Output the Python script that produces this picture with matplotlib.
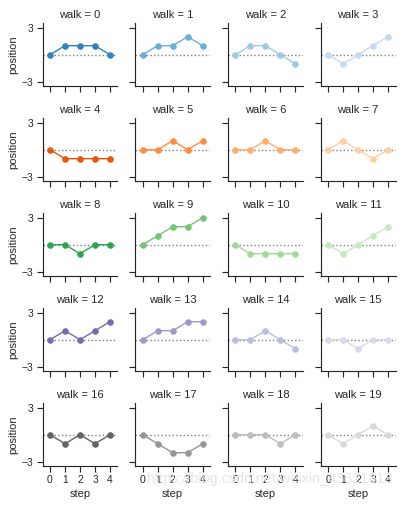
import numpy as np
import pandas as pd
import matplotlib
matplotlib.use("Agg")
import matplotlib.pyplot as plt
import seaborn as sns

# positions (5 steps each)
steps = [0, 1, 2, 3, 4]
walks = list(range(20))
positions = [
    [0, 1, 1, 1, 0],
    [0, 1, 1, 2, 1],
    [0, 1, 1, 0, -1],
    [0, -1, 0, 1, 2],
    [0, -1, -1, -1, -1],
    [0, 0, 1, 0, 1],
    [0, 0, 1, 0, 0],
    [0, 1, 0, -1, 0],
    [0, 0, -1, 0, 0],
    [0, 1, 2, 2, 3],
    [0, -1, -1, -1, -1],
    [0, -1, 0, 1, 2],
    [0, 1, 0, 1, 2],
    [0, 1, 1, 2, 2],
    [0, 0, 1, 0, -1],
    [0, 0, -1, 0, 0],
    [0, -1, 0, -1, 0],
    [0, -1, -2, -2, -1],
    [0, 0, 0, -1, 0],
    [0, -1, 0, 1, 0],
]

df = pd.DataFrame({
    "position": np.ravel(positions),
    "step": np.tile(steps, len(walks)),
    "walk": np.repeat(walks, len(steps)),
})

sns.set_theme(style="ticks")
plt.rcParams["font.family"] = ["Liberation Sans", "DejaVu Sans"]

grid = sns.FacetGrid(df, col="walk", hue="walk", palette="tab20c",
                     col_wrap=4, height=1.5)
grid.refline(y=0, linestyle=":")
grid.map(plt.plot, "step", "position", marker="o")
grid.set(xticks=np.arange(5), yticks=[-3, 3],
         xlim=(-.5, 4.5), ylim=(-3.5, 3.5))

# only the bottom row keeps its x tick labels
for i, ax in enumerate(grid.axes.flat):
    if i < 16:
        ax.tick_params(labelbottom=False)
    if i % 4 != 0:
        ax.tick_params(labelleft=False)

fig = grid.fig
fig.set_size_inches(402 / 67, 506 / 67)
fig.subplots_adjust(left=42.5 / 402, right=395.5 / 402,
                    top=1 - 23.2 / 506, bottom=1 - 466.2 / 506,
                    wspace=0.236, hspace=0.508)

fig.text(392 / 402, 1 - 479 / 506, "https://blog.csdn.net/weixin_43621813",
         ha="right", va="center", fontsize=15.5, color="#e6e6e6", zorder=0)

fig.savefig("out.png", dpi=67)
